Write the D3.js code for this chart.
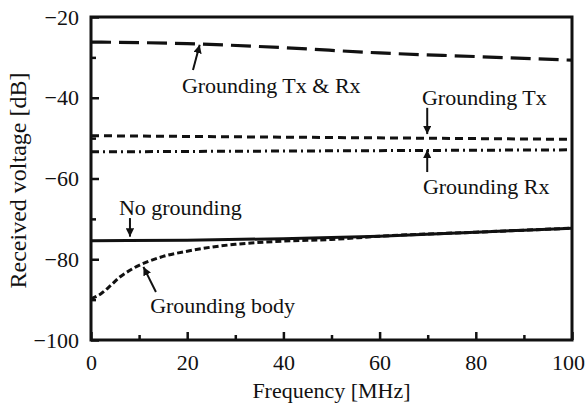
<!DOCTYPE html>
<html>
<head>
<meta charset="utf-8">
<script src="https://cdn.jsdelivr.net/npm/d3@7"></script>
<style>
  body { margin: 0; background: #fff; }
  text { font-family: "Liberation Serif", "Times New Roman", serif; fill: #111; }
</style>
</head>
<body>
<div id="chart"></div>
<script>
// data
const freqTxRx = [0, 20, 40, 60, 80, 100];
const voltTxRx = [-26.2, -26.6, -27.6, -28.9, -29.8, -30.7];

const freqTx = [0, 100];
const voltTx = [-49.4, -50.3];

const freqRx = [0, 100];
const voltRx = [-53.4, -52.9];

const freqNone = [0, 20, 40, 60, 80, 100];
const voltNone = [-75.4, -75.3, -74.9, -74.3, -73.3, -72.3];

const freqBody = [0, 2, 4, 6, 8, 10, 12, 15, 20, 25, 30, 40, 50, 60, 80, 100];
const voltBody = [-89.8, -88.6, -86.6, -84.4, -82.8, -81.5, -80.5, -79.3, -78.0, -77.0, -76.3, -75.5, -75.1, -74.3, -73.3, -72.3];

const xTicks = [0, 20, 40, 60, 80, 100];
const yTicks = [-100, -80, -60, -40, -20];

// label text, anchor (f, v) and arrow tail -> tip in data units
const labels = [
    { text: "Grounding Tx & Rx", f: 18.9, v: -38.8, arrow: [21.2, -33.1, 22.6, -26.9] },
    { text: "Grounding Tx", f: 68.8, v: -41.8, arrow: [69.9, -42.5, 69.9, -49.0] },
    { text: "Grounding Rx", f: 69.0, v: -63.8, arrow: [69.9, -58.4, 69.9, -52.9] },
    { text: "No grounding", f: 5.8, v: -69.0, arrow: [8.1, -69.8, 8.1, -74.4] },
    { text: "Grounding body", f: 12.3, v: -93.3, arrow: [13.5, -88.1, 10.9, -81.9] }
];

const width = 586, height = 403;
const margin = { top: 17, right: 14, bottom: 63, left: 91 };

const svg = d3.select("#chart").append("svg")
    .attr("width", width)
    .attr("height", height);

const x = d3.scaleLinear().domain([0, 100]).range([margin.left, width - margin.right]);
const y = d3.scaleLinear().domain([-100, -20]).range([height - margin.bottom, margin.top]);

svg.append("defs").append("marker")
    .attr("id", "head")
    .attr("viewBox", "0 0 10 10")
    .attr("refX", 10).attr("refY", 5)
    .attr("markerWidth", 4.2).attr("markerHeight", 4.2)
    .attr("markerUnits", "strokeWidth")
    .attr("orient", "auto")
    .append("path")
    .attr("d", "M0,0 L10,5 L0,10 Z")
    .attr("fill", "#111");

// series
const series = [
    { f: freqTxRx, v: voltTxRx, dash: "20,8", w: 3.2 },
    { f: freqTx, v: voltTx, dash: "8,5", w: 3 },
    { f: freqRx, v: voltRx, dash: "8,4,2,4", w: 3 },
    { f: freqNone, v: voltNone, dash: null, w: 3 },
    { f: freqBody, v: voltBody, dash: "6,3", w: 3 }
];

const line = d3.line()
    .x(d => x(d[0]))
    .y(d => y(d[1]))
    .curve(d3.curveMonotoneX);

series.forEach(s => {
    svg.append("path")
        .datum(s.f.map((f, i) => [f, s.v[i]]))
        .attr("d", line)
        .attr("fill", "none")
        .attr("stroke", "#111")
        .attr("stroke-width", s.w)
        .attr("stroke-dasharray", s.dash);
});

// axes, ticks inward
const xAxis = d3.axisBottom(x).tickValues(xTicks).tickSize(-8).tickPadding(14).tickSizeOuter(0);
const xMinor = d3.axisBottom(x).tickValues([10, 30, 50, 70, 90]).tickSize(-5).tickFormat("").tickSizeOuter(0);
const yAxis = d3.axisLeft(y).tickValues(yTicks).tickSize(-8).tickPadding(12).tickSizeOuter(0)
    .tickFormat(d => "\u2212" + Math.abs(d));
const yMinor = d3.axisLeft(y).tickValues([-90, -70, -50, -30]).tickSize(-5).tickFormat("").tickSizeOuter(0);

[[xAxis, `translate(0,${height - margin.bottom})`], [xMinor, `translate(0,${height - margin.bottom})`],
 [yAxis, `translate(${margin.left},0)`], [yMinor, `translate(${margin.left},0)`]].forEach(([ax, tr]) => {
    const g = svg.append("g").attr("transform", tr).call(ax);
    g.select(".domain").remove();
    g.selectAll(".tick line").attr("stroke", "#111").attr("stroke-width", 2.5);
    g.selectAll(".tick text").attr("font-size", 22).attr("fill", "#111")
        .style("font-family", "'Liberation Serif', serif");
});

// keep the "100" label inside the window
svg.selectAll("g .tick text").filter(d => d === 100).attr("dx", -4);

// frame
svg.append("rect")
    .attr("x", x(0)).attr("y", y(-20))
    .attr("width", x(100) - x(0)).attr("height", y(-100) - y(-20))
    .attr("fill", "none").attr("stroke", "#111").attr("stroke-width", 3);

// axis titles
svg.append("text")
    .attr("x", (x(0) + x(100)) / 2).attr("y", 398)
    .attr("text-anchor", "middle").attr("font-size", 22)
    .text("Frequency [MHz]");

svg.append("text")
    .attr("transform", `translate(26,${(y(-20) + y(-100)) / 2 + 2}) rotate(-90)`)
    .attr("text-anchor", "middle").attr("font-size", 24)
    .text("Received voltage [dB]");

// annotations
labels.forEach(l => {
    svg.append("text")
        .attr("x", x(l.f)).attr("y", y(l.v))
        .attr("font-size", 22)
        .text(l.text);
    const a = l.arrow;
    svg.append("line")
        .attr("x1", x(a[0])).attr("y1", y(a[1]))
        .attr("x2", x(a[2])).attr("y2", y(a[3]))
        .attr("stroke", "#111").attr("stroke-width", 2)
        .attr("marker-end", "url(#head)");
});
</script>
</body>
</html>
